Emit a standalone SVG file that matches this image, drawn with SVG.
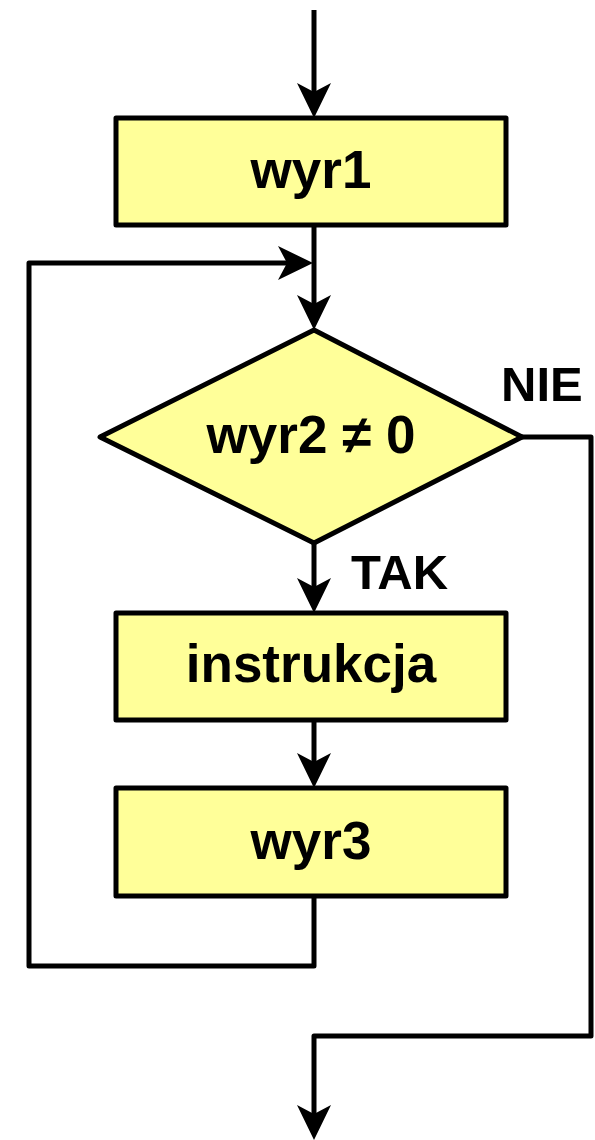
<svg xmlns="http://www.w3.org/2000/svg" width="595" height="1140" viewBox="0 0 595 1140">
<style>
.box{fill:#FFFF99;stroke:#000;stroke-width:5;stroke-linejoin:round}
.lbl{font-family:"Liberation Sans",Arial,sans-serif;font-weight:bold;font-size:53px;fill:#000;text-anchor:middle}
.tag{font-family:"Liberation Sans",Arial,sans-serif;font-weight:bold;font-size:49px;fill:#000}
.con{fill:none;stroke:#000;stroke-width:5;stroke-linejoin:round}
</style>
<defs>
<marker id="ah" markerUnits="userSpaceOnUse" viewBox="-36 -20 40 40" markerWidth="40" markerHeight="40" refX="-26" refY="0" orient="auto">
<path d="M0,0 L-35,-17 L-26,0 L-35,17 Z" fill="#000"/>
</marker>
</defs>
<rect width="595" height="1140" fill="#fff"/>
<g id="connectors">
<path class="con" d="M314,10 V92" marker-end="url(#ah)"/>
<path class="con" d="M314,225 V304" marker-end="url(#ah)"/>
<path class="con" d="M314,896 V966 H29 V263 H287" marker-end="url(#ah)"/>
<path class="con" d="M314,543 V587" marker-end="url(#ah)"/>
<path class="con" d="M314,720 V762" marker-end="url(#ah)"/>
<path class="con" d="M522,437 H591 V1036 H314 V1114" marker-end="url(#ah)"/>
</g>
<g id="wyr1">
<rect class="box" x="116" y="118" width="390" height="107"/>
<text class="lbl" x="311" y="188">wyr1</text>
</g>
<g id="wyr2">
<polygon class="box" points="314,330 522,437 314,543 100,437"/>
<text class="lbl" x="311" y="453">wyr2 ≠ 0</text>
</g>
<g id="instrukcja">
<rect class="box" x="116" y="613" width="390" height="107"/>
<text class="lbl" x="311" y="682">instrukcja</text>
</g>
<g id="wyr3">
<rect class="box" x="116" y="788" width="390" height="108"/>
<text class="lbl" x="311" y="859">wyr3</text>
</g>
<g id="labels">
<text class="tag" x="501" y="401">NIE</text>
<text class="tag" x="351" y="589" font-size="50">TAK</text>
</g>
</svg>
